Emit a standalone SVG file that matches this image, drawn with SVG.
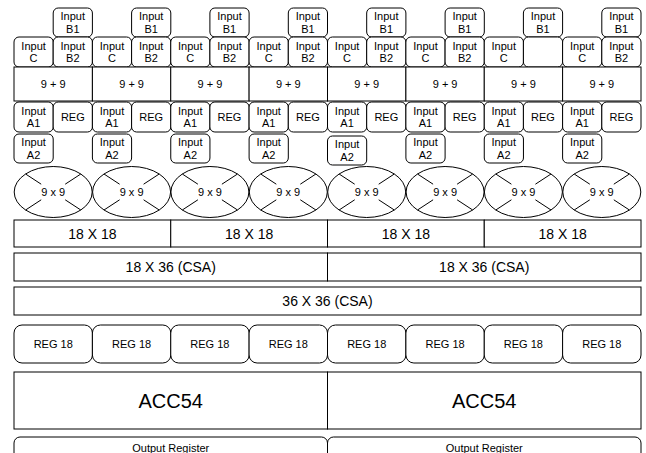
<svg xmlns="http://www.w3.org/2000/svg" xmlns:xlink="http://www.w3.org/1999/xlink" width="646" height="453" viewBox="0 0 646 453">
<style>
rect, ellipse { fill: #fff; stroke: #000; stroke-width: 1; }
.x { stroke: #000; stroke-width: 1; fill: none; }
text { font-family: "Liberation Sans", Arial, sans-serif; fill: #000; text-anchor: middle; }
.s { font-size: 11px; }
.m { font-size: 14px; }
.l { font-size: 20px; }
</style>
<defs>
<g id="mul">
<ellipse cx="0" cy="0" rx="39" ry="25.5"/>
<path class="x" d="M-27.6,-18 L-12,-7.8 M27.6,-18 L12,-7.8 M-27.6,18 L-12,7.8 M27.6,18 L12,7.8"/>
</g>
</defs>
<rect width="646" height="453" style="fill:#fff;stroke:none"/>

<!-- Column 0 -->
<g id="b1-0"><rect x="53.2" y="8" width="39.2" height="29" rx="5"/><text class="s" x="72.8" y="20.2">Input</text><text class="s" x="72.8" y="32.7">B1</text></g>
<g id="c-0"><rect x="14" y="37" width="39.2" height="30" rx="5"/><text class="s" x="33.6" y="49.7">Input</text><text class="s" x="33.6" y="62.2">C</text></g>
<g id="b2-0"><rect x="53.2" y="37" width="39.2" height="30" rx="5"/><text class="s" x="72.8" y="49.7">Input</text><text class="s" x="72.8" y="62.2">B2</text></g>
<g id="add-0"><rect x="14" y="67" width="78.4" height="34"/><text class="s" x="53.2" y="88">9 + 9</text></g>
<g id="a1-0"><rect x="14" y="102" width="39.2" height="30" rx="5"/><text class="s" x="33.6" y="114.7">Input</text><text class="s" x="33.6" y="127.2">A1</text></g>
<g id="reg-0"><rect x="53.2" y="102" width="39.2" height="30" rx="5"/><text class="s" x="72.8" y="121">REG</text></g>
<g id="a2-0"><rect x="14" y="134" width="39.2" height="29" rx="5"/><text class="s" x="33.6" y="146.2">Input</text><text class="s" x="33.6" y="158.7">A2</text></g>
<g id="mul-0"><use xlink:href="#mul" href="#mul" x="53.2" y="192"/><text class="s" x="53.2" y="196">9 x 9</text></g>

<!-- Column 1 -->
<g id="b1-1"><rect x="131.6" y="8" width="39.2" height="29" rx="5"/><text class="s" x="151.2" y="20.2">Input</text><text class="s" x="151.2" y="32.7">B1</text></g>
<g id="c-1"><rect x="92.4" y="37" width="39.2" height="30" rx="5"/><text class="s" x="112" y="49.7">Input</text><text class="s" x="112" y="62.2">C</text></g>
<g id="b2-1"><rect x="131.6" y="37" width="39.2" height="30" rx="5"/><text class="s" x="151.2" y="49.7">Input</text><text class="s" x="151.2" y="62.2">B2</text></g>
<g id="add-1"><rect x="92.4" y="67" width="78.4" height="34"/><text class="s" x="131.6" y="88">9 + 9</text></g>
<g id="a1-1"><rect x="92.4" y="102" width="39.2" height="30" rx="5"/><text class="s" x="112" y="114.7">Input</text><text class="s" x="112" y="127.2">A1</text></g>
<g id="reg-1"><rect x="131.6" y="102" width="39.2" height="30" rx="5"/><text class="s" x="151.2" y="121">REG</text></g>
<g id="a2-1"><rect x="92.4" y="134" width="39.2" height="29" rx="5"/><text class="s" x="112" y="146.2">Input</text><text class="s" x="112" y="158.7">A2</text></g>
<g id="mul-1"><use xlink:href="#mul" href="#mul" x="131.6" y="192"/><text class="s" x="131.6" y="196">9 x 9</text></g>

<!-- Column 2 -->
<g id="b1-2"><rect x="209.9" y="8" width="39.2" height="29" rx="5"/><text class="s" x="229.5" y="20.2">Input</text><text class="s" x="229.5" y="32.7">B1</text></g>
<g id="c-2"><rect x="170.75" y="37" width="39.2" height="30" rx="5"/><text class="s" x="190.3" y="49.7">Input</text><text class="s" x="190.3" y="62.2">C</text></g>
<g id="b2-2"><rect x="209.9" y="37" width="39.2" height="30" rx="5"/><text class="s" x="229.5" y="49.7">Input</text><text class="s" x="229.5" y="62.2">B2</text></g>
<g id="add-2"><rect x="170.75" y="67" width="78.4" height="34"/><text class="s" x="209.9" y="88">9 + 9</text></g>
<g id="a1-2"><rect x="170.75" y="102" width="39.2" height="30" rx="5"/><text class="s" x="190.3" y="114.7">Input</text><text class="s" x="190.3" y="127.2">A1</text></g>
<g id="reg-2"><rect x="209.9" y="102" width="39.2" height="30" rx="5"/><text class="s" x="229.5" y="121">REG</text></g>
<g id="a2-2"><rect x="170.75" y="134" width="39.2" height="29" rx="5"/><text class="s" x="190.3" y="146.2">Input</text><text class="s" x="190.3" y="158.7">A2</text></g>
<g id="mul-2"><use xlink:href="#mul" href="#mul" x="209.9" y="192"/><text class="s" x="209.9" y="196">9 x 9</text></g>

<!-- Column 3 -->
<g id="b1-3"><rect x="288.3" y="8" width="39.2" height="29" rx="5"/><text class="s" x="307.9" y="20.2">Input</text><text class="s" x="307.9" y="32.7">B1</text></g>
<g id="c-3"><rect x="249.1" y="37" width="39.2" height="30" rx="5"/><text class="s" x="268.7" y="49.7">Input</text><text class="s" x="268.7" y="62.2">C</text></g>
<g id="b2-3"><rect x="288.3" y="37" width="39.2" height="30" rx="5"/><text class="s" x="307.9" y="49.7">Input</text><text class="s" x="307.9" y="62.2">B2</text></g>
<g id="add-3"><rect x="249.1" y="67" width="78.4" height="34"/><text class="s" x="288.3" y="88">9 + 9</text></g>
<g id="a1-3"><rect x="249.1" y="102" width="39.2" height="30" rx="5"/><text class="s" x="268.7" y="114.7">Input</text><text class="s" x="268.7" y="127.2">A1</text></g>
<g id="reg-3"><rect x="288.3" y="102" width="39.2" height="30" rx="5"/><text class="s" x="307.9" y="121">REG</text></g>
<g id="a2-3"><rect x="249.1" y="134" width="39.2" height="29" rx="5"/><text class="s" x="268.7" y="146.2">Input</text><text class="s" x="268.7" y="158.7">A2</text></g>
<g id="mul-3"><use xlink:href="#mul" href="#mul" x="288.3" y="192"/><text class="s" x="288.3" y="196">9 x 9</text></g>

<!-- Column 4 -->
<g id="b1-4"><rect x="366.7" y="8" width="39.2" height="29" rx="5"/><text class="s" x="386.3" y="20.2">Input</text><text class="s" x="386.3" y="32.7">B1</text></g>
<g id="c-4"><rect x="327.5" y="37" width="39.2" height="30" rx="5"/><text class="s" x="347.1" y="49.7">Input</text><text class="s" x="347.1" y="62.2">C</text></g>
<g id="b2-4"><rect x="366.7" y="37" width="39.2" height="30" rx="5"/><text class="s" x="386.3" y="49.7">Input</text><text class="s" x="386.3" y="62.2">B2</text></g>
<g id="add-4"><rect x="327.5" y="67" width="78.4" height="34"/><text class="s" x="366.7" y="88">9 + 9</text></g>
<g id="a1-4"><rect x="327.5" y="102" width="39.2" height="30" rx="5"/><text class="s" x="347.1" y="114.7">Input</text><text class="s" x="347.1" y="127.2">A1</text></g>
<g id="reg-4"><rect x="366.7" y="102" width="39.2" height="30" rx="5"/><text class="s" x="386.3" y="121">REG</text></g>
<g id="a2-4"><rect x="327.5" y="136" width="39.2" height="29" rx="5"/><text class="s" x="347.1" y="148.2">Input</text><text class="s" x="347.1" y="160.7">A2</text></g>
<g id="mul-4"><use xlink:href="#mul" href="#mul" x="366.7" y="192"/><text class="s" x="366.7" y="196">9 x 9</text></g>

<!-- Column 5 -->
<g id="b1-5"><rect x="445.1" y="8" width="39.2" height="29" rx="5"/><text class="s" x="464.7" y="20.2">Input</text><text class="s" x="464.7" y="32.7">B1</text></g>
<g id="c-5"><rect x="405.9" y="37" width="39.2" height="30" rx="5"/><text class="s" x="425.5" y="49.7">Input</text><text class="s" x="425.5" y="62.2">C</text></g>
<g id="b2-5"><rect x="445.1" y="37" width="39.2" height="30" rx="5"/><text class="s" x="464.7" y="49.7">Input</text><text class="s" x="464.7" y="62.2">B2</text></g>
<g id="add-5"><rect x="405.9" y="67" width="78.4" height="34"/><text class="s" x="445.1" y="88">9 + 9</text></g>
<g id="a1-5"><rect x="405.9" y="102" width="39.2" height="30" rx="5"/><text class="s" x="425.5" y="114.7">Input</text><text class="s" x="425.5" y="127.2">A1</text></g>
<g id="reg-5"><rect x="445.1" y="102" width="39.2" height="30" rx="5"/><text class="s" x="464.7" y="121">REG</text></g>
<g id="a2-5"><rect x="405.9" y="134" width="39.2" height="29" rx="5"/><text class="s" x="425.5" y="146.2">Input</text><text class="s" x="425.5" y="158.7">A2</text></g>
<g id="mul-5"><use xlink:href="#mul" href="#mul" x="445.1" y="192"/><text class="s" x="445.1" y="196">9 x 9</text></g>

<!-- Column 6 -->
<g id="b1-6"><rect x="523.4" y="8" width="39.2" height="29" rx="5"/><text class="s" x="543" y="20.2">Input</text><text class="s" x="543" y="32.7">B1</text></g>
<g id="c-6"><rect x="484.25" y="37" width="39.2" height="30" rx="5"/><text class="s" x="503.8" y="49.7">Input</text><text class="s" x="503.8" y="62.2">C</text></g>
<g id="b2-6"><rect x="523.4" y="37" width="39.2" height="30" rx="5"/></g>
<g id="add-6"><rect x="484.25" y="67" width="78.4" height="34"/><text class="s" x="523.4" y="88">9 + 9</text></g>
<g id="a1-6"><rect x="484.25" y="102" width="39.2" height="30" rx="5"/><text class="s" x="503.8" y="114.7">Input</text><text class="s" x="503.8" y="127.2">A1</text></g>
<g id="reg-6"><rect x="523.4" y="102" width="39.2" height="30" rx="5"/><text class="s" x="543" y="121">REG</text></g>
<g id="a2-6"><rect x="484.25" y="134" width="39.2" height="29" rx="5"/><text class="s" x="503.8" y="146.2">Input</text><text class="s" x="503.8" y="158.7">A2</text></g>
<g id="mul-6"><use xlink:href="#mul" href="#mul" x="523.4" y="192"/><text class="s" x="523.4" y="196">9 x 9</text></g>

<!-- Column 7 -->
<g id="b1-7"><rect x="601.8" y="8" width="39.2" height="29" rx="5"/><text class="s" x="621.4" y="20.2">Input</text><text class="s" x="621.4" y="32.7">B1</text></g>
<g id="c-7"><rect x="562.6" y="37" width="39.2" height="30" rx="5"/><text class="s" x="582.2" y="49.7">Input</text><text class="s" x="582.2" y="62.2">C</text></g>
<g id="b2-7"><rect x="601.8" y="37" width="39.2" height="30" rx="5"/><text class="s" x="621.4" y="49.7">Input</text><text class="s" x="621.4" y="62.2">B2</text></g>
<g id="add-7"><rect x="562.6" y="67" width="78.4" height="34"/><text class="s" x="601.8" y="88">9 + 9</text></g>
<g id="a1-7"><rect x="562.6" y="102" width="39.2" height="30" rx="5"/><text class="s" x="582.2" y="114.7">Input</text><text class="s" x="582.2" y="127.2">A1</text></g>
<g id="reg-7"><rect x="601.8" y="102" width="39.2" height="30" rx="5"/><text class="s" x="621.4" y="121">REG</text></g>
<g id="a2-7"><rect x="562.6" y="134" width="39.2" height="29" rx="5"/><text class="s" x="582.2" y="146.2">Input</text><text class="s" x="582.2" y="158.7">A2</text></g>
<g id="mul-7"><use xlink:href="#mul" href="#mul" x="601.8" y="192"/><text class="s" x="601.8" y="196">9 x 9</text></g>

<!-- 18 X 18 -->
<g id="m18-0"><rect x="14" y="220" width="156.75" height="27"/><text class="m" x="92.4" y="238.5">18 X 18</text></g>
<g id="m18-1"><rect x="170.75" y="220" width="156.75" height="27"/><text class="m" x="249.1" y="238.5">18 X 18</text></g>
<g id="m18-2"><rect x="327.5" y="220" width="156.75" height="27"/><text class="m" x="405.9" y="238.5">18 X 18</text></g>
<g id="m18-3"><rect x="484.25" y="220" width="156.75" height="27"/><text class="m" x="562.6" y="238.5">18 X 18</text></g>

<!-- 18 X 36 -->
<g id="csa36-0"><rect x="14" y="253" width="313.5" height="28"/><text class="m" x="170.75" y="272">18 X 36 (CSA)</text></g>
<g id="csa36-1"><rect x="327.5" y="253" width="313.5" height="28"/><text class="m" x="484.25" y="272">18 X 36 (CSA)</text></g>

<!-- 36 X 36 -->
<g id="csa3636"><rect x="14" y="287" width="627" height="28"/><text class="m" x="327.5" y="306">36 X 36 (CSA)</text></g>

<!-- REG 18 -->
<g id="reg18-0"><rect x="14" y="325" width="78.4" height="38" rx="8"/><text class="s" x="53.2" y="348">REG 18</text></g>
<g id="reg18-1"><rect x="92.4" y="325" width="78.4" height="38" rx="8"/><text class="s" x="131.6" y="348">REG 18</text></g>
<g id="reg18-2"><rect x="170.75" y="325" width="78.4" height="38" rx="8"/><text class="s" x="209.9" y="348">REG 18</text></g>
<g id="reg18-3"><rect x="249.1" y="325" width="78.4" height="38" rx="8"/><text class="s" x="288.3" y="348">REG 18</text></g>
<g id="reg18-4"><rect x="327.5" y="325" width="78.4" height="38" rx="8"/><text class="s" x="366.7" y="348">REG 18</text></g>
<g id="reg18-5"><rect x="405.9" y="325" width="78.4" height="38" rx="8"/><text class="s" x="445.1" y="348">REG 18</text></g>
<g id="reg18-6"><rect x="484.25" y="325" width="78.4" height="38" rx="8"/><text class="s" x="523.4" y="348">REG 18</text></g>
<g id="reg18-7"><rect x="562.6" y="325" width="78.4" height="38" rx="8"/><text class="s" x="601.8" y="348">REG 18</text></g>

<!-- ACC54 -->
<g id="acc-0"><rect x="14" y="372" width="313.5" height="57"/><text class="l" x="170.75" y="407.5">ACC54</text></g>
<g id="acc-1"><rect x="327.5" y="372" width="313.5" height="57"/><text class="l" x="484.25" y="407.5">ACC54</text></g>

<!-- Output Register -->
<g id="out-0"><rect x="14" y="437" width="313.5" height="40" rx="6"/><text class="s" x="170.75" y="452">Output Register</text></g>
<g id="out-1"><rect x="327.5" y="437" width="313.5" height="40" rx="6"/><text class="s" x="484.25" y="452">Output Register</text></g>

<g id="connectors"></g>
</svg>
